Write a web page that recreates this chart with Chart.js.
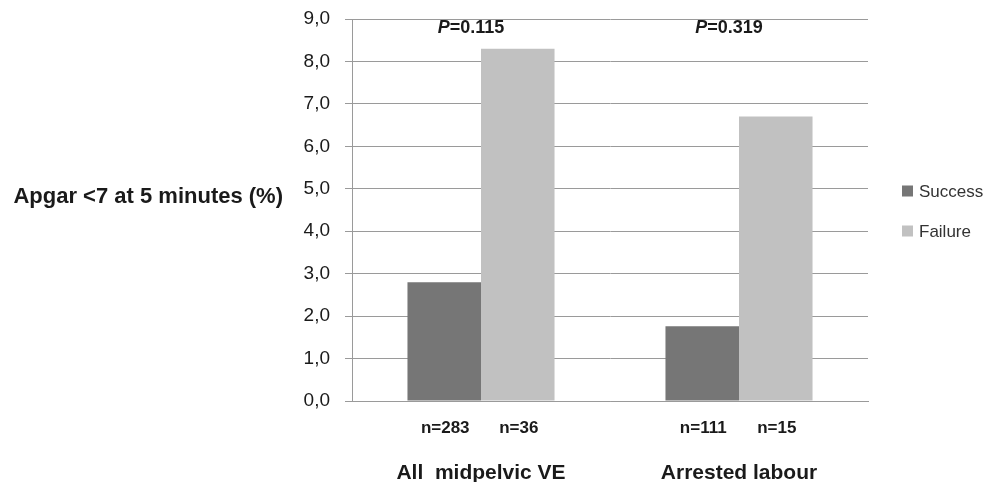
<!DOCTYPE html>
<html>
<head>
<meta charset="utf-8">
<script src="https://cdn.jsdelivr.net/npm/chart.js@4.4.0/dist/chart.umd.min.js"></script>
<style>
  html, body { margin: 0; padding: 0; background: #fff; }
  #wrap { width: 1002px; height: 482px; }
</style>
</head>
<body>
<div id="wrap"><canvas id="chart" width="1002" height="482"></canvas></div>
<script>
// data
const categories = ['All  midpelvic VE', 'Arrested labour'];
const successValues = [2.8, 1.76];
const failureValues = [8.3, 6.7];
const successCounts = ['n=283', 'n=111'];
const failureCounts = ['n=36', 'n=15'];
const pValues = ['0.115', '0.319'];
const seriesNames = ['Success', 'Failure'];
const seriesColors = ['#767676', '#c1c1c1'];
const yTitle = 'Apgar <7 at 5 minutes (%)';

const FONT = "'Liberation Sans', Arial, sans-serif";
const gridColor = '#9a9a9a';

const extras = {
  id: 'extras',
  afterDraw(chart) {
    const ctx = chart.ctx;
    const x = chart.scales.x;
    ctx.save();
    ctx.fillStyle = '#1a1a1a';

    // y axis title, horizontal, left of ticks
    ctx.font = 'bold 22px ' + FONT;
    ctx.textAlign = 'right';
    ctx.textBaseline = 'middle';
    ctx.fillText(yTitle, 283, 197);

    // P values above each group
    pValues.forEach((p, i) => {
      const cx = x.getPixelForValue(i) - 10;
      const rest = '=' + p;
      ctx.font = 'italic bold 18px ' + FONT;
      const wP = ctx.measureText('P').width;
      ctx.font = 'bold 18px ' + FONT;
      const wR = ctx.measureText(rest).width;
      const left = cx - (wP + wR) / 2;
      ctx.textAlign = 'left';
      ctx.textBaseline = 'middle';
      ctx.font = 'italic bold 18px ' + FONT;
      ctx.fillText('P', left, 28);
      ctx.font = 'bold 18px ' + FONT;
      ctx.fillText(rest, left + wP, 28);
    });

    // n counts under each bar
    ctx.font = 'bold 17px ' + FONT;
    ctx.textAlign = 'center';
    ctx.textBaseline = 'middle';
    [successCounts, failureCounts].forEach((counts, d) => {
      chart.getDatasetMeta(d).data.forEach((bar, i) => {
        ctx.fillText(counts[i], bar.x + 1, 428);
      });
    });

    // legend on the right
    ctx.font = '17px ' + FONT;
    ctx.textAlign = 'left';
    seriesNames.forEach((name, i) => {
      const cy = 191 + i * 40;
      ctx.fillStyle = seriesColors[i];
      ctx.fillRect(902, cy - 5.5, 11, 11);
      ctx.fillStyle = '#333';
      ctx.fillText(name, 919, cy + 1);
    });
    ctx.restore();
  }
};

new Chart(document.getElementById('chart'), {
  type: 'bar',
  data: {
    labels: categories,
    datasets: [
      { label: seriesNames[0], data: successValues, backgroundColor: seriesColors[0] },
      { label: seriesNames[1], data: failureValues, backgroundColor: seriesColors[1] }
    ]
  },
  options: {
    responsive: false,
    animation: false,
    devicePixelRatio: 1,
    categoryPercentage: 0.57,
    barPercentage: 1.0,
    layout: { padding: { top: 19, right: 134, left: 0, bottom: 0 } },
    plugins: { legend: { display: false }, tooltip: { enabled: false } },
    scales: {
      y: {
        min: 0,
        max: 9,
        ticks: {
          stepSize: 1,
          color: '#1a1a1a',
          font: { family: FONT, size: 19 },
          padding: 15,
          callback: v => v.toFixed(1).replace('.', ',')
        },
        grid: { color: gridColor, tickLength: 7, lineWidth: 1 },
        border: { display: true, color: gridColor },
        afterFit(scale) {
          scale.width = 352;
          scale.paddingTop = 0;
          scale.paddingBottom = 0;
        }
      },
      x: {
        ticks: {
          color: '#1a1a1a',
          font: { family: FONT, size: 21, weight: 'bold' },
          padding: 60,
          maxRotation: 0,
          autoSkip: false
        },
        grid: { display: false, drawTicks: false },
        border: { display: true, color: gridColor },
        afterFit(scale) {
          scale.height = 81;
          scale.paddingLeft = 0;
          scale.paddingRight = 0;
        }
      }
    }
  },
  plugins: [extras]
});
</script>
</body>
</html>
